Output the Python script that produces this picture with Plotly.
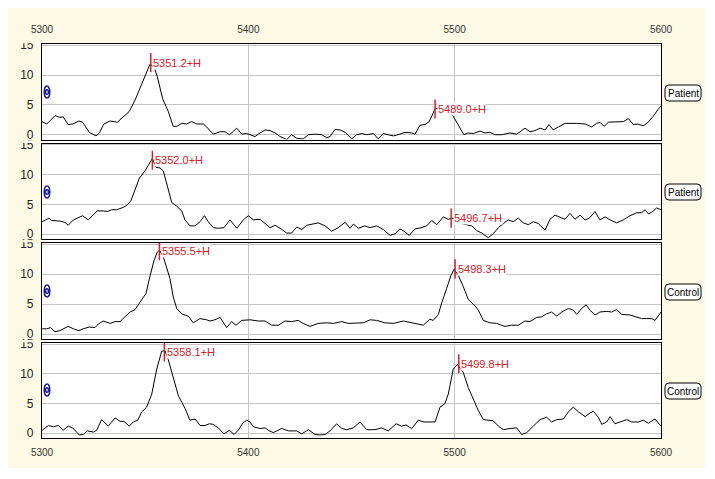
import plotly.graph_objects as go

# ---------------- data ----------------
x_ticks = [5300, 5400, 5500, 5600]
y_ticks = [0, 5, 10, 15]
panel_labels = ["Patient", "Patient", "Control", "Control"]

p1_x = [5300.0, 5302.3, 5306.3, 5308.7, 5310.3, 5312.6, 5315.0, 5317.9, 5319.7, 5322.9, 5326.2, 5327.8,
        5330.0, 5333.0, 5336.5, 5340.2, 5342.3, 5345.1, 5347.5, 5349.9, 5352.3, 5354.3, 5355.9, 5358.5,
        5361.2, 5363.6, 5365.3, 5367.7, 5370.1, 5372.6, 5375.0, 5378.2, 5379.8, 5383.0, 5386.3, 5388.7,
        5390.8, 5392.7, 5394.4, 5396.8, 5399.2, 5400.8, 5403.2, 5405.7, 5408.1, 5410.5, 5412.9, 5415.4,
        5418.6, 5421.0, 5423.4, 5426.6, 5429.1, 5432.3, 5435.6, 5438.0, 5439.6, 5442.0, 5444.4, 5446.9,
        5450.1, 5452.5, 5455.0, 5457.4, 5460.6, 5463.0, 5465.4, 5467.8, 5470.3, 5473.5, 5475.9, 5479.2,
        5480.8, 5483.2, 5485.6, 5487.7, 5490.5, 5493.4, 5496.3, 5499.3, 5501.8, 5504.5, 5506.6, 5509.0,
        5512.3, 5514.7, 5517.1, 5519.6, 5522.8, 5526.8, 5530.1, 5532.0, 5534.1, 5536.5, 5538.9, 5541.4,
        5543.8, 5545.7, 5547.8, 5550.2, 5553.5, 5559.1, 5563.2, 5566.4, 5568.8, 5570.4, 5572.4, 5574.5,
        5578.5, 5581.7, 5584.2, 5586.6, 5588.5, 5591.4, 5593.8, 5596.3, 5598.7, 5600.0]
p1_y = [2.2, 1.8, 3.2, 2.9, 3.0, 1.7, 1.8, 2.3, 2.1, 0.4, -0.2, 0.3,
        1.8, 2.3, 2.1, 3.2, 3.9, 5.8, 7.9, 10.0, 11.8, 11.4, 9.7, 6.0,
        3.9, 1.4, 1.4, 1.9, 1.8, 2.2, 1.8, 1.8, 1.3, 0.1, 0.5, 0.5,
        0.0, 0.55, 1.1, 0.1, 0.2, 0.0, -0.3, 0.3, 0.8, 0.7, 0.3, -0.3,
        -0.8, 0.0, -0.6, -0.7, 0.0, 0.1, 0.0, -0.5, -0.3, 0.9, 0.8, 0.4,
        -0.7, 0.0, 0.2, 0.0, 0.2, -0.7, 0.2, 0.0, -0.2, 0.1, 0.4, 0.3,
        0.1, 1.6, 1.7, 2.2, 4.3, 4.6, 4.1, 3.1, 1.7, 0.0, 0.3, 0.2,
        0.6, 0.3, 0.4, 0.0, 0.0, 0.3, 0.1, 0.6, 1.1, 0.5, 0.7, 1.1,
        0.8, 1.7, 0.8, 1.3, 1.9, 1.9, 1.8, 1.3, 1.9, 2.1, 1.4, 2.1,
        2.2, 2.2, 2.7, 1.7, 1.8, 1.5, 2.1, 3.1, 4.3, 4.8]

p2_x = [5300.1, 5302.3, 5303.4, 5304.7, 5308.7, 5311.1, 5312.7, 5315.2, 5317.6, 5319.7, 5322.4, 5324.6,
        5326.8, 5329.7, 5331.6, 5333.8, 5336.2, 5339.4, 5341.3, 5343.1, 5345.1, 5347.2, 5349.9, 5351.5,
        5353.5, 5355.3, 5357.2, 5358.8, 5360.4, 5362.9, 5365.3, 5367.7, 5369.3, 5371.7, 5374.2, 5376.6,
        5378.7, 5380.6, 5383.0, 5385.4, 5388.2, 5391.1, 5394.4, 5397.6, 5400.0, 5402.4, 5405.7, 5408.1,
        5410.5, 5412.9, 5415.4, 5418.6, 5421.0, 5423.4, 5425.9, 5428.3, 5430.7, 5433.9, 5437.2, 5440.4,
        5443.6, 5446.9, 5449.3, 5450.9, 5453.3, 5456.5, 5458.9, 5462.2, 5465.4, 5468.7, 5471.1, 5473.5,
        5475.9, 5478.0, 5480.8, 5484.0, 5486.4, 5488.9, 5491.3, 5494.5, 5496.9, 5499.2, 5501.6, 5504.2,
        5508.3, 5510.7, 5513.1, 5516.3, 5518.7, 5521.2, 5523.6, 5526.0, 5528.4, 5530.8, 5533.3, 5535.7,
        5538.1, 5540.5, 5543.8, 5546.2, 5548.6, 5551.1, 5553.5, 5555.9, 5558.3, 5560.8, 5563.2, 5565.3,
        5568.0, 5570.4, 5572.9, 5575.3, 5578.5, 5581.7, 5585.0, 5588.2, 5590.6, 5592.3, 5593.9, 5596.0,
        5597.9, 5600.0]
p2_y = [2.1, 2.5, 2.7, 2.3, 2.2, 2.0, 1.5, 2.4, 2.8, 3.1, 2.4, 3.2,
        3.9, 3.9, 3.8, 4.1, 4.1, 4.5, 4.9, 5.6, 7.5, 9.4, 10.6, 11.5,
        12.7, 11.2, 11.1, 10.6, 8.6, 5.3, 4.7, 3.9, 2.4, 1.4, 1.4, 2.1,
        3.1, 2.1, 1.1, 1.0, 1.1, 2.4, 1.0, 2.4, 3.1, 2.4, 2.5, 1.8,
        1.1, 1.5, 1.0, 0.2, 0.2, 1.2, 0.8, 1.5, 1.7, 1.9, 1.4, 0.5,
        1.1, 2.0, 1.0, 1.7, 1.0, 1.4, 1.1, 1.4, 0.8, -0.2, 0.1, 0.9,
        0.4, -0.2, 0.9, 1.1, 1.4, 2.3, 1.6, 2.9, 2.5, 2.7, 2.0, 1.7,
        1.4, 0.6, 0.2, -0.6, 0.1, 1.1, 1.8, 2.4, 2.1, 2.7, 1.9, 1.6,
        2.1, 1.8, 0.7, 2.5, 3.2, 2.9, 2.5, 3.5, 2.5, 3.2, 2.4, 2.7,
        3.8, 2.4, 2.9, 2.4, 1.9, 2.4, 3.1, 3.6, 3.6, 4.1, 3.4, 3.8,
        4.4, 4.1]

p3_x = [5300.1, 5302.3, 5304.2, 5306.3, 5308.7, 5312.7, 5315.2, 5317.9, 5320.0, 5322.9, 5325.7, 5327.3,
        5329.7, 5333.0, 5335.4, 5337.8, 5340.2, 5342.7, 5345.1, 5347.5, 5350.4, 5352.3, 5354.3, 5355.9,
        5356.9, 5358.8, 5360.4, 5362.0, 5363.6, 5365.3, 5367.7, 5370.9, 5373.3, 5376.6, 5379.8, 5381.4,
        5383.8, 5386.3, 5389.5, 5391.9, 5394.0, 5396.8, 5400.8, 5404.8, 5408.1, 5411.3, 5414.5, 5417.8,
        5421.0, 5424.2, 5426.6, 5429.9, 5433.9, 5438.0, 5441.2, 5445.3, 5448.4, 5452.5, 5455.7, 5459.0,
        5462.2, 5466.2, 5470.3, 5475.1, 5479.2, 5482.4, 5484.8, 5488.0, 5489.6, 5492.1, 5493.7, 5496.1,
        5498.1, 5499.7, 5501.8, 5504.2, 5506.6, 5509.9, 5511.5, 5513.9, 5517.1, 5520.4, 5524.4, 5527.6,
        5530.8, 5534.1, 5536.5, 5539.8, 5542.2, 5544.6, 5547.0, 5549.5, 5551.9, 5555.1, 5557.5, 5559.1,
        5561.6, 5563.7, 5565.6, 5568.0, 5570.4, 5573.7, 5576.1, 5578.5, 5581.0, 5585.0, 5588.2, 5590.6,
        5593.1, 5595.5, 5597.1, 5600.0]
p3_y = [0.9, 0.9, 1.1, 0.4, 0.6, 1.3, 0.9, 0.6, 0.9, 1.2, 1.1, 1.7,
        2.2, 1.8, 2.1, 2.1, 2.9, 3.7, 4.1, 5.4, 6.8, 9.6, 12.3, 13.7,
        14.0, 12.9, 11.2, 9.3, 6.2, 4.3, 3.4, 3.0, 1.9, 2.6, 2.4, 2.2,
        2.4, 2.8, 1.1, 2.1, 1.5, 2.3, 2.4, 2.2, 2.2, 1.5, 1.5, 2.2,
        2.1, 2.3, 1.8, 1.3, 1.8, 1.9, 1.8, 2.1, 1.8, 1.9, 1.9, 2.4,
        2.3, 1.9, 1.8, 2.2, 1.9, 1.7, 1.5, 2.5, 2.3, 3.3, 5.2, 7.6,
        9.7, 10.8, 9.8, 7.9, 5.8, 4.7, 4.0, 2.3, 1.9, 1.8, 1.3, 1.5,
        1.5, 2.2, 2.1, 2.8, 2.9, 3.4, 3.7, 3.0, 3.7, 4.3, 4.0, 3.3,
        4.3, 4.9, 4.0, 3.2, 3.7, 3.8, 3.7, 4.1, 3.3, 3.2, 2.9, 2.6,
        2.6, 2.6, 2.3, 3.7]

p4_x = [5300.1, 5303.1, 5305.5, 5307.9, 5310.3, 5312.7, 5314.9, 5318.1, 5320.0, 5322.0, 5324.9, 5326.5,
        5328.9, 5332.1, 5335.4, 5337.8, 5339.7, 5342.3, 5344.2, 5346.4, 5348.3, 5350.7, 5353.2, 5355.6,
        5358.0, 5359.6, 5361.2, 5363.6, 5366.1, 5369.3, 5371.7, 5374.2, 5376.6, 5379.0, 5381.1, 5383.0,
        5385.4, 5388.2, 5390.8, 5393.1, 5395.1, 5397.3, 5399.2, 5400.8, 5402.4, 5405.7, 5408.1, 5409.7,
        5412.1, 5416.2, 5419.4, 5423.4, 5425.9, 5429.1, 5432.3, 5434.7, 5437.2, 5439.6, 5442.8, 5445.3,
        5447.7, 5450.9, 5454.1, 5457.4, 5461.4, 5464.6, 5467.8, 5471.6, 5474.3, 5476.4, 5479.2, 5482.4,
        5485.1, 5490.5, 5492.9, 5495.3, 5496.9, 5497.7, 5499.3, 5501.3, 5504.2, 5506.6, 5509.0, 5511.5,
        5513.9, 5516.3, 5518.7, 5521.2, 5523.6, 5526.8, 5530.1, 5532.5, 5534.9, 5538.1, 5541.4, 5544.6,
        5547.0, 5549.5, 5552.7, 5555.1, 5557.5, 5560.0, 5563.2, 5565.6, 5567.2, 5569.6, 5571.3, 5573.7,
        5575.3, 5577.7, 5580.1, 5583.4, 5585.8, 5589.0, 5591.4, 5593.9, 5597.1, 5600.0]
p4_y = [0.5, 1.3, 1.1, 1.3, 0.5, 1.2, 0.9, -0.3, -0.2, 0.4, 0.2, 0.5,
        2.3, 1.2, 2.6, 2.0, 2.0, 1.2, 1.9, 2.2, 3.6, 4.4, 6.6, 10.8,
        13.8, 13.9, 12.4, 9.4, 6.3, 4.2, 2.2, 2.4, 1.3, 1.3, 1.6, 1.5,
        0.9, -0.1, 0.5, -0.2, 0.5, 1.7, 2.2, 1.9, 1.1, 0.8, 0.9, 0.5,
        0.1, 0.8, 0.4, 0.4, -0.1, 0.6, -0.2, -0.3, -0.2, 0.4, 1.6, 0.8,
        0.6, 0.9, 1.9, 0.6, 0.6, 0.9, 0.4, 1.6, 1.2, 1.4, 0.8, 2.2,
        1.9, 1.9, 4.4, 5.0, 6.6, 8.0, 10.8, 11.6, 10.2, 7.7, 5.8, 3.8,
        2.3, 2.2, 2.1, 1.2, 0.6, 0.8, 0.9, -0.2, 0.1, 1.2, 2.3, 2.7,
        1.9, 2.3, 2.4, 3.6, 4.4, 3.6, 2.8, 3.4, 3.7, 2.7, 1.5, 1.9,
        2.8, 1.6, 1.9, 2.3, 1.9, 1.9, 2.2, 1.7, 2.4, 1.2]

peak_x = [[5352.7, 5490.5], [5353.5, 5498.3], [5356.9, 5500.2], [5359.3, 5502.0]]
peak_y = [[12.1, 4.3], [12.4, 2.7], [13.9, 10.9], [13.7, 11.7]]
peak_text = [["5351.2+H", "5489.0+H"], ["5352.0+H", "5496.7+H"],
             ["5355.5+H", "5498.3+H"], ["5358.1+H", "5499.8+H"]]

series_x = [p1_x, p2_x, p3_x, p4_x]
series_y = [p1_y, p2_y, p3_y, p4_y]

# ---------------- layout helpers (page pixel coords, page body has 8px margin) ----------------
OFF = 8
W, H = 699, 463
L, R, T, B = 42, 661, 44, 438  # plot area in page pixels
def px2x(px):
    return (px - L) / (R - L)
def py2y(py):
    return (B - py) / (B - T)

panel_top = [44, 143.5, 243, 343]
panel_bot = [139.5, 239, 339, 438]
BEIGE = "#FCFAE4"
GRID = "#c4c4c4"
RED = "#d8202a"
FONT = "Liberation Sans, Arial"

fig = go.Figure()
for i in range(4):
    n = "" if i == 0 else str(i + 1)
    fig.add_trace(go.Scatter(x=series_x[i], y=series_y[i], mode="lines",
                             line=dict(color="black", width=1),
                             xaxis="x" + n, yaxis="y" + n, showlegend=False,
                             hoverinfo="skip"))
    fig.add_trace(go.Scatter(x=peak_x[i], y=peak_y[i], mode="markers",
                             marker=dict(size=1, color="rgba(0,0,0,0)"),
                             error_y=dict(type="constant", value=1.6, width=0,
                                          thickness=1.5, color=RED),
                             xaxis="x" + n, yaxis="y" + n, showlegend=False,
                             hoverinfo="skip"))
    for px_, py_, t in zip(peak_x[i], peak_y[i], peak_text[i]):
        fig.add_annotation(x=px_, y=py_, xref="x" + n, yref="y" + n, text=t,
                           showarrow=False, xanchor="left", yanchor="middle",
                           xshift=1.5, bgcolor="white", borderpad=0,
                           font=dict(family=FONT, size=11, color=RED))

axis_common = dict(showline=True, linecolor="black", linewidth=1.2, mirror=True,
                   showgrid=True, gridcolor=GRID, gridwidth=1, zeroline=False, ticks="")
for i in range(4):
    n = "" if i == 0 else str(i + 1)
    xa = dict(axis_common, range=[5300, 5600], tickvals=x_ticks,
              ticktext=[str(v) for v in x_ticks], anchor="y" + n,
              tickfont=dict(family=FONT, size=10, color="#333"))
    if i == 0:
        xa.update(side="top", showticklabels=True, ticklabelstandoff=6)
    elif i == 3:
        xa.update(side="bottom", showticklabels=True, ticklabelstandoff=5)
    else:
        xa.update(showticklabels=False)
    if i > 0:
        xa["matches"] = "x"
    ya = dict(axis_common, range=[-0.8, 15.2], tickvals=y_ticks,
              ticktext=[str(v) for v in y_ticks], anchor="x" + n,
              domain=[py2y(panel_bot[i]), py2y(panel_top[i])],
              tickfont=dict(family=FONT, size=12, color="#222"),
              ticklabelstandoff=5)
    fig.layout["xaxis" + n] = xa
    fig.layout["yaxis" + n] = ya

shapes = []
# cream frame background
shapes.append(dict(type="rect", xref="paper", yref="paper", layer="below",
                   x0=px2x(8), x1=px2x(705), y0=py2y(468), y1=py2y(8),
                   fillcolor=BEIGE, line=dict(width=0)))
shapes.append(dict(type="rect", xref="paper", yref="paper", layer="below",
                   x0=0, x1=1, y0=0, y1=1, fillcolor="white", line=dict(width=0)))

def rrect_path(x0, y0, x1, y1, r):
    X = px2x; Y = py2y
    return ("M {a},{b} L {c},{b} Q {d},{b} {d},{e} L {d},{f} Q {d},{g} {c},{g} "
            "L {a},{g} Q {h},{g} {h},{f} L {h},{e} Q {h},{b} {a},{b} Z").format(
        a=X(x0 + r), b=Y(y0), c=X(x1 - r), d=X(x1), e=Y(y0 + r), f=Y(y1 - r),
        g=Y(y1), h=X(x0))

label_cy = [93, 192, 292, 391]
icon_cy = [92, 192, 291, 390]
clip_from = [36, 140.2, 239.7, 339.7]
for i in range(4):
    # clip the top part of the "15" tick label at the panel's top edge
    shapes.append(dict(type="rect", xref="paper", yref="paper", layer="above",
                       x0=px2x(12), x1=px2x(40.5), y0=py2y(panel_top[i] - 0.7),
                       y1=py2y(clip_from[i]), fillcolor=BEIGE, line=dict(width=0)))
    # rounded label box
    shapes.append(dict(type="path", xref="paper", yref="paper", layer="above",
                       path=rrect_path(665, label_cy[i] - 8, 701, label_cy[i] + 8, 4),
                       fillcolor="white", line=dict(color="black", width=1)))
    fig.add_annotation(xref="paper", yref="paper", x=px2x(683), y=py2y(label_cy[i]),
                       text=panel_labels[i], showarrow=False, xanchor="center",
                       yanchor="middle",
                       font=dict(family=FONT, size=10, color="black"))
    # blue icon
    cy = icon_cy[i]
    shapes.append(dict(type="circle", xref="paper", yref="paper", layer="above",
                       x0=px2x(44.3), x1=px2x(49.7), y0=py2y(cy - 6), y1=py2y(cy + 6),
                       line=dict(color="#1a1a8a", width=1.6)))
    shapes.append(dict(type="circle", xref="paper", yref="paper", layer="above",
                       x0=px2x(45.6), x1=px2x(48.4), y0=py2y(cy - 2.3), y1=py2y(cy + 2.3),
                       line=dict(color="#1a1a8a", width=1.4)))

fig.update_layout(width=W, height=H, autosize=False,
                  margin=dict(l=L - OFF, r=(W + OFF) - R, t=T - OFF, b=(H + OFF) - B, pad=0),
                  paper_bgcolor="white", plot_bgcolor="white",
                  shapes=shapes, showlegend=False)

fig.write_html("out.html")
